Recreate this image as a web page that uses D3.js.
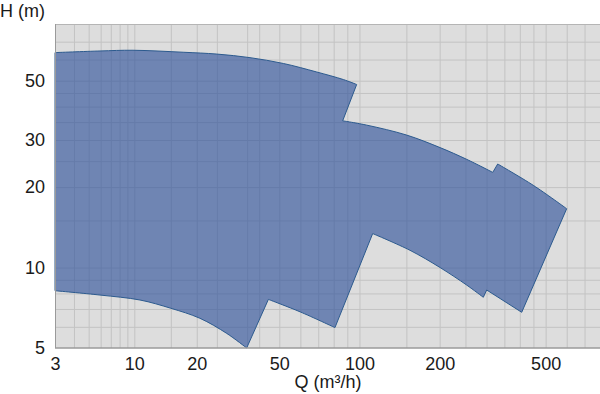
<!DOCTYPE html>
<html>
<head>
<meta charset="utf-8">
<script src="https://cdn.jsdelivr.net/npm/d3@7"></script>
<style>
  body { margin: 0; background: #fff; }
  svg { display: block; font-family: "Liberation Sans", Arial, Helvetica, sans-serif; }
  .grid line { stroke: #c3c3c3; stroke-width: 1; }
  .grid path { display: none; }
  .axis path { display: none; }
  .axis text { font-size: 18px; fill: #1a1a1a; }
</style>
</head>
<body>
<svg width="600" height="394"></svg>
<script>
// tick labels
var xTicks = [3, 10, 20, 50, 100, 200, 500];
var yTicks = [5, 10, 20, 30, 50];

// grid lines as drawn in the original (not every log step is there)
var gridQ = [4, 5, 6, 7, 8, 9, 10, 15, 20, 25, 35, 40, 50, 60, 70, 80, 90, 100,
             150, 200, 250, 300, 350, 400, 450, 500, 600, 700];
var gridH = [6, 7, 8, 9, 10, 15, 20, 25, 30, 35, 40, 45, 50, 60, 70];

// envelope edges, one curve per pump range (Q m3/h, H m), left to right
var top1Q = [3, 5.94, 9.8, 17.2, 25.0, 36.1, 51.8, 69.1, 87.0, 97.6];
var top1H = [63.7, 64.6, 65.0, 63.9, 62.9, 61.0, 58.0, 53.9, 50.5, 48.4];
var top2Q = [86.5, 106.5, 150.4, 200.7, 252.6, 316.5];
var top2H = [35.4, 34.1, 31.3, 28.1, 25.4, 22.7];
var top3Q = [330.4, 449.5, 599.7];
var top3H = [24.4, 20.3, 16.6];

var bottom1Q = [3, 5.94, 10.65, 15.0, 20.7, 27.9, 34.8];
var bottom1H = [8.19, 7.89, 7.56, 7.04, 6.46, 5.67, 5.0];
var bottom1bQ = [44.3, 59.8, 80.9];
var bottom1bH = [7.60, 6.83, 5.96];
var bottom2Q = [112.1, 154.8, 200.7, 252.6, 291.7];
var bottom2H = [13.4, 11.6, 10.0, 8.60, 7.74];
var bottom3Q = [300.4, 406.6];
var bottom3H = [8.24, 6.80];

var margin = { top: 24, right: 0, bottom: 46, left: 55 };
var svg = d3.select("svg");
var width = +svg.attr("width") - margin.left - margin.right;
var height = +svg.attr("height") - margin.top - margin.bottom;

// the chart's Q axis is log but with a different spacing per range
var x = d3.scaleLog()
    .domain([3, 10, 50, 800])
    .range([0, 79.3, 224.3, width]);
var y = d3.scaleLog()
    .domain([5, 81.5])
    .range([height, 0]);

var g = svg.append("g")
    .attr("transform", "translate(" + margin.left + "," + margin.top + ")");

g.append("rect")
    .attr("width", width)
    .attr("height", height)
    .attr("fill", "#dddddd");

g.append("g")
    .attr("class", "grid")
    .attr("transform", "translate(0," + height + ")")
    .call(d3.axisBottom(x).tickValues(gridQ).tickSize(-height).tickFormat(""));

g.append("g")
    .attr("class", "grid")
    .call(d3.axisLeft(y).tickValues(gridH).tickSize(-width).tickFormat(""));

function pts(qs, hs, reverse) {
    var p = qs.map(function (q, i) { return [q, hs[i]]; });
    return reverse ? p.reverse() : p;
}

var curve = d3.line()
    .x(function (d) { return x(d[0]); })
    .y(function (d) { return y(d[1]); })
    .curve(d3.curveCatmullRom.alpha(0.5));

// smooth pieces joined by straight lines at the notches
var pieces = [
    pts(top1Q, top1H), pts(top2Q, top2H), pts(top3Q, top3H),
    pts(bottom3Q, bottom3H, true), pts(bottom2Q, bottom2H, true),
    pts(bottom1bQ, bottom1bH, true), pts(bottom1Q, bottom1H, true)
];
var d = pieces.map(function (p, i) {
    var s = curve(p);
    return i === 0 ? s : "L" + s.slice(1);
}).join("") + "Z";

g.append("path")
    .attr("d", d)
    .attr("fill", "#2b4f99")
    .attr("fill-opacity", 0.62)
    .attr("stroke", "#2c5a8e")
    .attr("stroke-width", 1);

// frame: top border, left and bottom axis lines
g.append("line")
    .attr("x1", 0).attr("x2", width).attr("y1", 0.5).attr("y2", 0.5)
    .attr("stroke", "#b5b5b5");
g.append("line")
    .attr("x1", 0.5).attr("x2", 0.5).attr("y1", 0).attr("y2", height)
    .attr("stroke", "#9a9a9a");
g.append("line")
    .attr("x1", 0).attr("x2", width).attr("y1", height).attr("y2", height)
    .attr("stroke", "#9a9a9a").attr("stroke-width", 1.5);

g.append("g")
    .attr("class", "axis")
    .attr("transform", "translate(0," + height + ")")
    .call(d3.axisBottom(x).tickValues(xTicks).tickSize(0).tickPadding(9).tickFormat(d3.format("d")));

g.append("g")
    .attr("class", "axis")
    .call(d3.axisLeft(y).tickValues(yTicks).tickSize(0).tickPadding(10).tickFormat(d3.format("d")));

svg.append("text")
    .attr("x", 0)
    .attr("y", 17)
    .attr("font-size", 18)
    .attr("fill", "#1a1a1a")
    .text("H (m)");

svg.append("text")
    .attr("x", 328)
    .attr("y", 388)
    .attr("text-anchor", "middle")
    .attr("font-size", 18)
    .attr("fill", "#1a1a1a")
    .text("Q (m³/h)");
</script>
</body>
</html>
